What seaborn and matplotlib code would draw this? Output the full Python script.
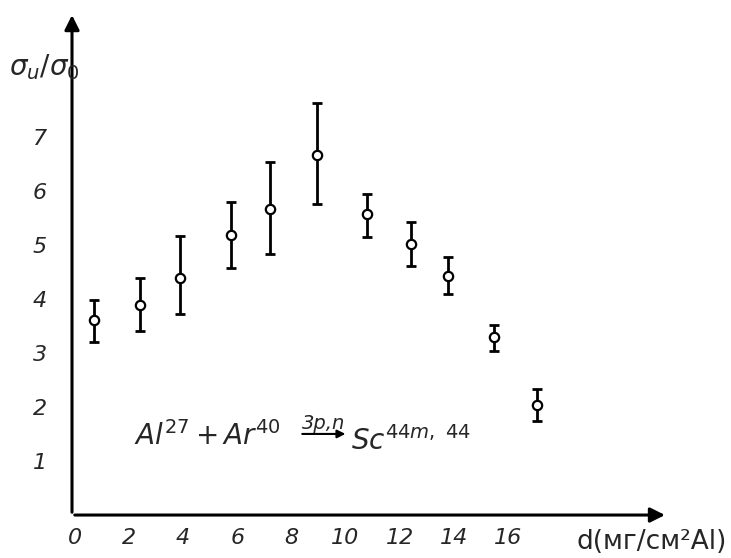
import matplotlib
matplotlib.use("Agg")
import matplotlib.pyplot as plt
import numpy as np
import pandas as pd
import seaborn as sns

# thickness d (mg/cm^2 Al) and relative yield sigma_u/sigma_0
thickness = [0.70, 2.42, 3.87, 5.77, 7.22, 8.94, 10.79, 12.41, 13.78, 15.50, 17.06]
ratio = [3.60, 3.89, 4.39, 5.18, 5.66, 6.66, 5.56, 5.01, 4.43, 3.30, 2.04]
err_top = [3.97, 4.39, 5.16, 5.79, 6.53, 7.63, 5.94, 5.42, 4.78, 3.51, 2.33]
err_bottom = [3.20, 3.41, 3.71, 4.57, 4.83, 5.76, 5.14, 4.60, 4.09, 3.04, 1.74]

x_ticks = [0, 2, 4, 6, 8, 10, 12, 14, 16]
y_ticks = [1, 2, 3, 4, 5, 6, 7]

df = pd.DataFrame({"d": thickness, "ratio": ratio, "hi": err_top, "lo": err_bottom})

sns.set_style("white")
plt.rcParams["font.family"] = ["DejaVu Sans"]

fig = plt.figure(figsize=(7.31, 5.58), dpi=100)
ax = fig.add_axes([0.0985, 0.077, 0.815, 0.901])

yerr = np.array([df["ratio"] - df["lo"], df["hi"] - df["ratio"]])
ax.errorbar(df["d"], df["ratio"], yerr=yerr, fmt="none", ecolor="black",
            elinewidth=2.0, capsize=3.5, capthick=2.0, zorder=2)
sns.scatterplot(data=df, x="d", y="ratio", ax=ax, marker="o", s=45,
                facecolor="white", edgecolor="black", linewidth=1.6, zorder=3)

ax.set_xlim(-0.1, 21.9)
ax.set_ylim(0.0, 9.3)
ax.set_xticks(x_ticks)
ax.set_yticks(y_ticks)
ax.set_xticklabels([str(t) for t in x_ticks], fontsize=16, style="italic")
ax.set_yticklabels([str(t) for t in y_ticks], fontsize=16, style="italic")
ax.tick_params(axis="both", direction="in", length=4, width=1.5, color="black")
ax.tick_params(axis="x", pad=9)
ax.tick_params(axis="y", pad=18)
ax.set_xlabel("")
ax.set_ylabel("")

for s in ax.spines.values():
    s.set_visible(False)
ax.annotate("", xy=(1, 0), xytext=(0, 0), xycoords="axes fraction",
            arrowprops=dict(arrowstyle="-|>", lw=2.2, color="black", mutation_scale=22))
ax.annotate("", xy=(0, 1), xytext=(0, 0), xycoords="axes fraction",
            arrowprops=dict(arrowstyle="-|>", lw=2.2, color="black", mutation_scale=22))

fig.text(0.012, 0.865, r"$\sigma_u/\sigma_0$", fontsize=20)
fig.text(0.995, 0.016, "d(мг/см²Al)", fontsize=19, ha="right")

ax.text(2.2, 1.3, r"$\mathit{Al}^{27} + \mathit{Ar}^{40}$", fontsize=20)
ax.annotate("", xy=(10.1, 1.5), xytext=(8.3, 1.5),
            arrowprops=dict(arrowstyle="-|>", lw=1.5, color="black", mutation_scale=12))
ax.text(9.2, 1.6, "3p,n", fontsize=14, style="italic", ha="center")
ax.text(10.2, 1.2, r"$\mathit{Sc}^{44m,\ 44}$", fontsize=20)

fig.savefig("out.png", dpi=100)
